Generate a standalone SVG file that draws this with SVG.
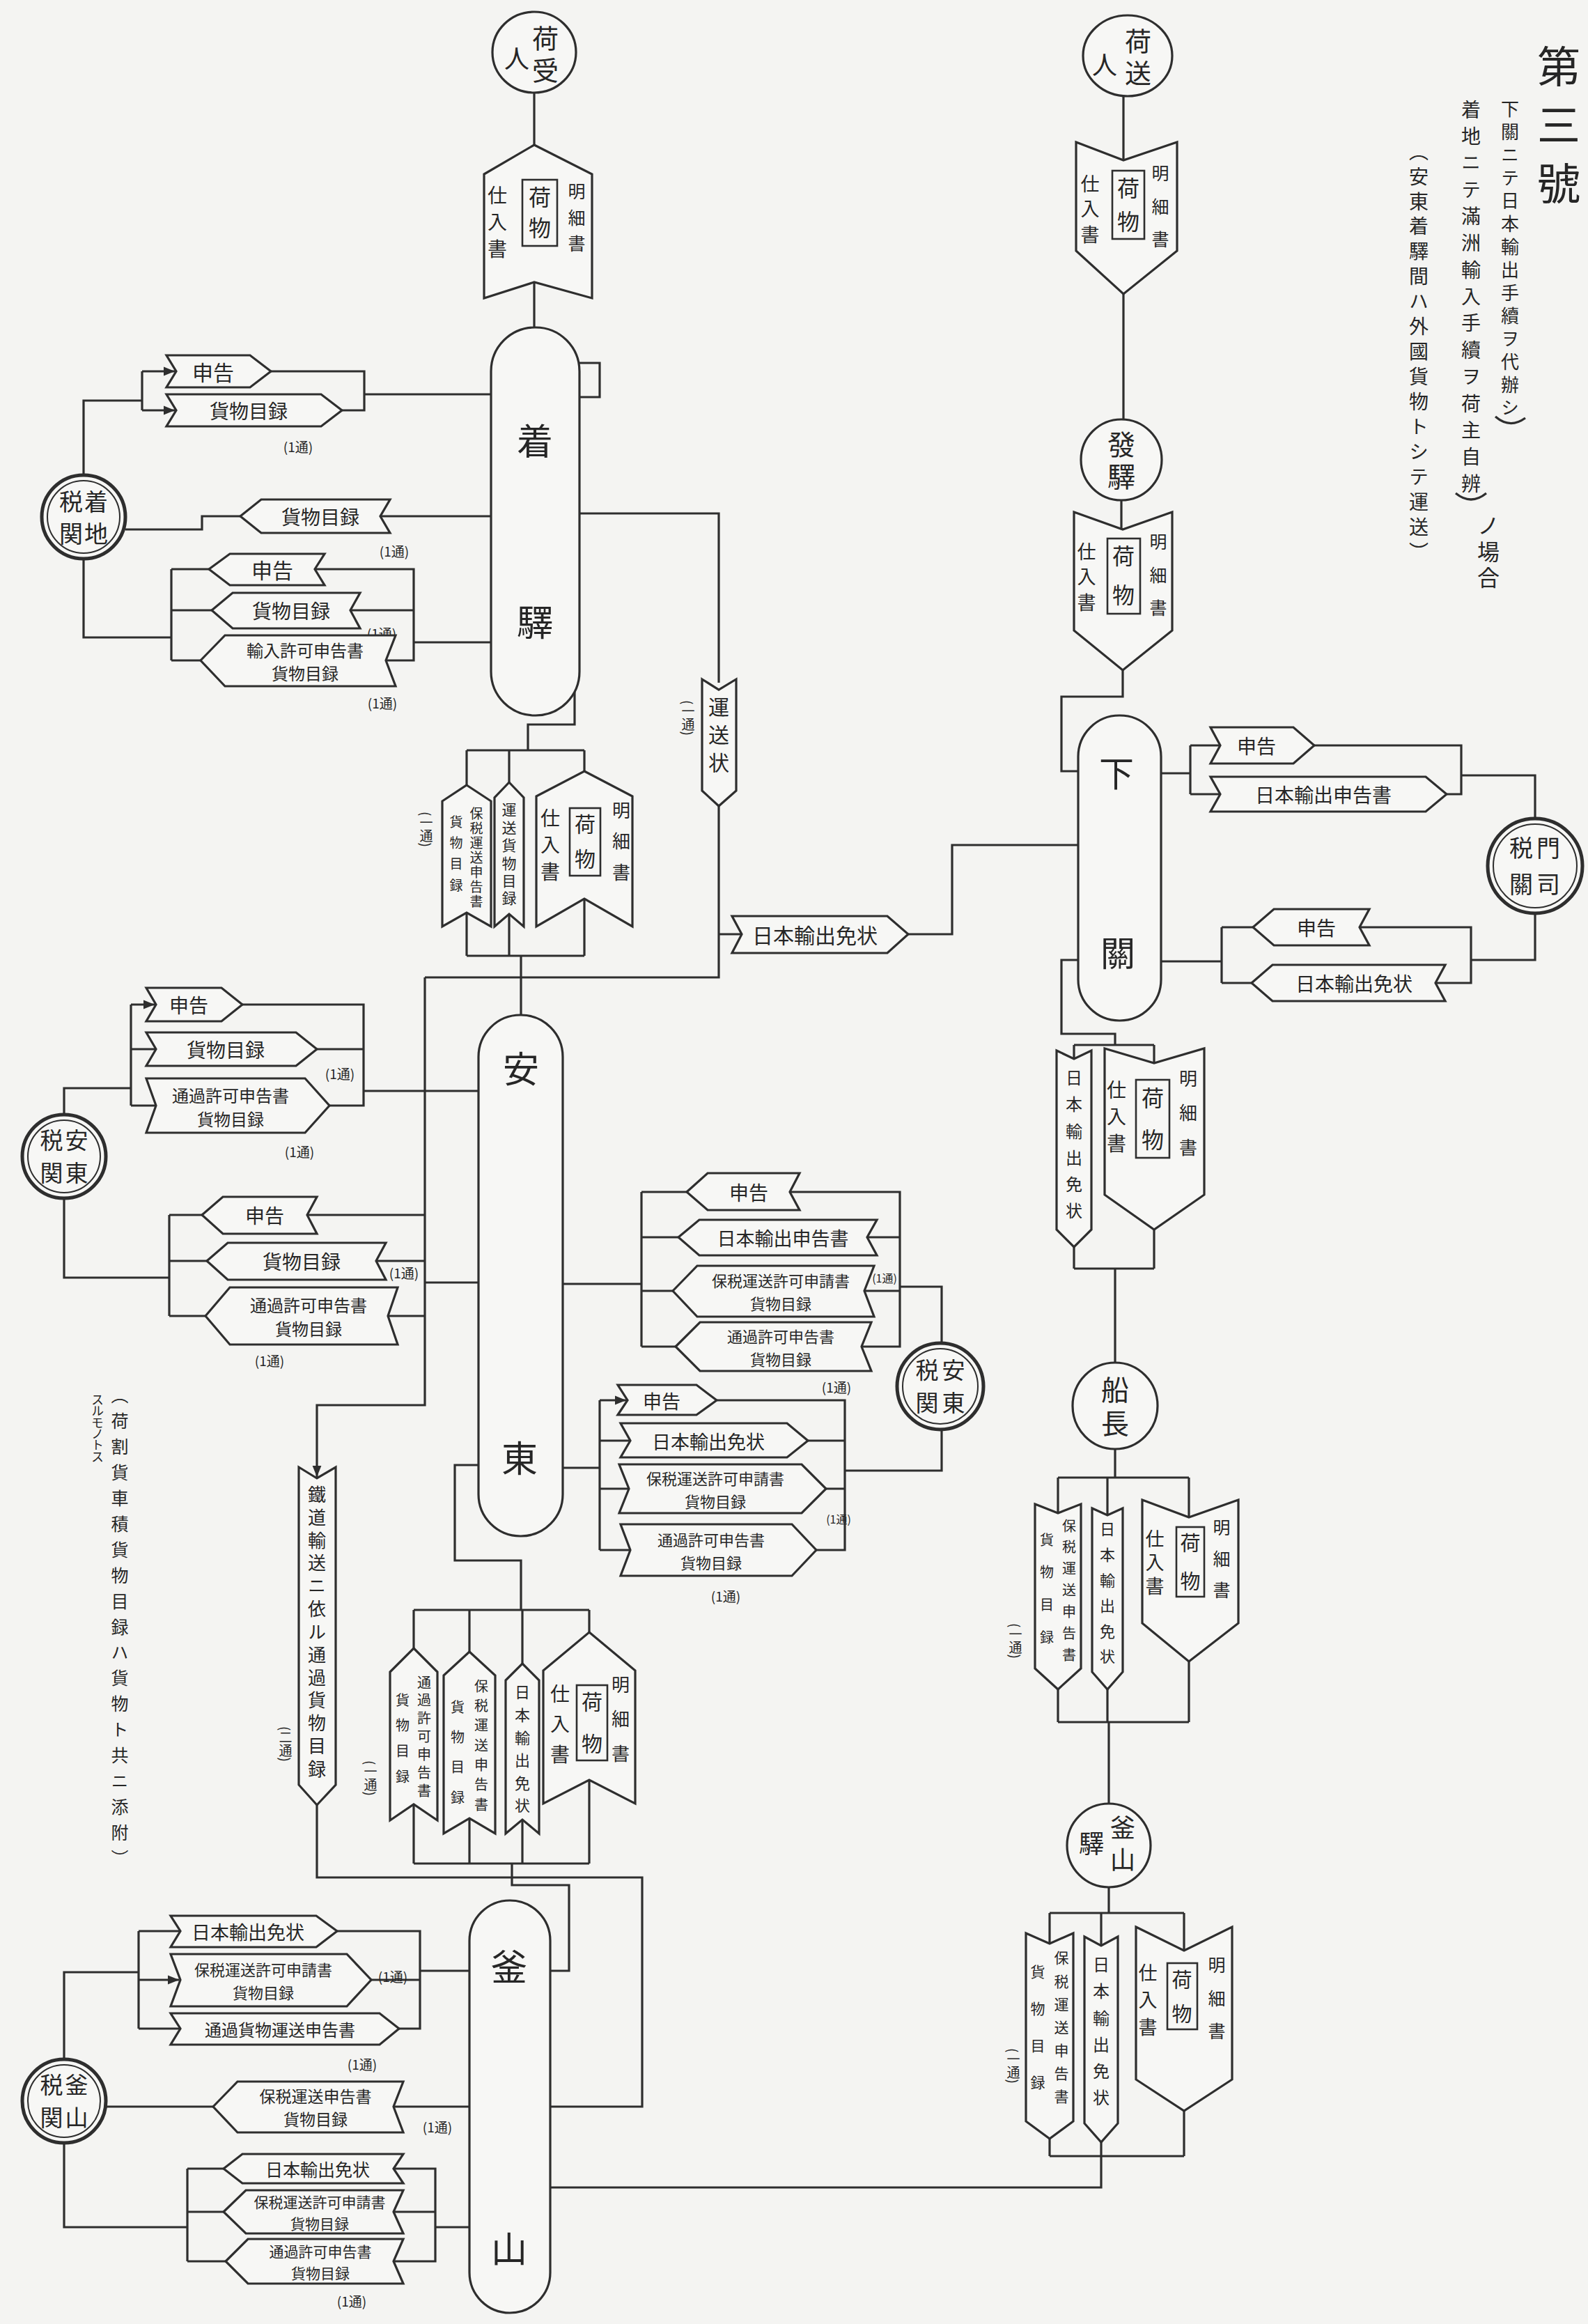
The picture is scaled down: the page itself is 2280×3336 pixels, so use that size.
<svg xmlns="http://www.w3.org/2000/svg" width="2280" height="3336" viewBox="0 0 2280 3336">
<style>
.ln{fill:none;stroke:#2e2e2e;stroke-width:3.2}
.sh{fill:#f7f7f5;stroke:#2e2e2e;stroke-width:3.2}
.bx{fill:none;stroke:#2e2e2e;stroke-width:2.6}
.cu{fill:#f7f7f5;stroke:#2e2e2e;stroke-width:5}
.ci{fill:none;stroke:#2e2e2e;stroke-width:2}
.t{font-family:"Noto Sans CJK JP","Noto Sans CJK SC",sans-serif;fill:#262626}
.v{writing-mode:vertical-rl}
.h{text-anchor:middle;dominant-baseline:central}
.n{font-size:19px}
</style>
<defs>
<marker id="ah" viewBox="0 0 10 10" refX="10" refY="5" markerWidth="5" markerHeight="5" orient="auto"><path d="M0,1 L10,5 L0,9z" fill="#2e2e2e"/></marker>
</defs>
<rect x="0" y="0" width="2280" height="3336" fill="#f4f4f2"/>

<g id="title">
<text class="t v" x="2238" y="64" font-size="62" textLength="230">第三號</text>
<text class="t v" x="2168" y="143" font-size="26" textLength="455">下關ニテ日本輸出手續ヲ代辦シ</text>
<text class="t v" x="2112" y="143" font-size="28" textLength="565">着地ニテ滿洲輸入手續ヲ荷主自辨</text>
<text class="t v" x="2137" y="738" font-size="32" textLength="107">ノ場合</text>
<text class="t v" x="2037" y="203" font-size="28" textLength="603">（安東着驛間ハ外國貨物トシテ運送）</text>
<path class="ln" d="M2147 598 Q2168 616 2190 600 M2090 708 Q2112 726 2134 708"/>
</g>

<g id="note">
<text class="t v" x="172" y="1990" font-size="25" textLength="690">（荷割貨車積貨物目録ハ貨物ト共ニ添附）</text>
<text class="t v" x="140" y="2000" font-size="18" textLength="100">スルモノトス</text>
</g>

<g id="connectors">
<path class="ln" d="M767 133 V208 M767 405 V521 H861 V570 H832"/>
<path class="ln" d="M120 682 V575 H204 M204 533 V589 M389 533 H523 V589 H491 M523 566 H705"/>
<path class="ln" d="M204 533 H251" marker-end="url(#ah)"/>
<path class="ln" d="M204 589 H251" marker-end="url(#ah)"/>
<path class="ln" d="M546 741 H705 M345 741 H290 V760 H180"/>
<path class="ln" d="M120 802 V915 H246 M246 817 V948 M246 817 H300 M246 876 H304 M246 948 H288 M452 817 H594 V948 H554 M503 876 H594 M594 922 H705"/>
<path class="ln" d="M832 737 H1032 V980 M1032 1157 V1403 H610 M1032 1341 H1065 M1304 1341 H1367 V1213 H1548"/>
<path class="ln" d="M825 992 V1040 H758 V1077 M670 1077 H839 M670 1077 V1127 M731 1077 V1123 M839 1077 V1107 M670 1310 V1372 M731 1312 V1372 M839 1290 V1372 M670 1372 H839 M748 1372 V1457"/>
<path class="ln" d="M92 1600 V1562 H188 M188 1442 V1587 M188 1506 H224 M188 1587 H224 M348 1442 H522 V1587 H473 M455 1506 H522 M522 1566 H687"/>
<path class="ln" d="M188 1442 H222" marker-end="url(#ah)"/>
<path class="ln" d="M92 1720 V1834 H243 M243 1744 V1889 M243 1744 H290 M243 1810 H297 M243 1889 H295 M441 1744 H610 M540 1810 H610 M557 1889 H610 M610 1841 H687"/>
<path class="ln" d="M610 1403 V2017 H455 V2120" marker-end="url(#ah)"/>
<path class="ln" d="M808 1843 H921 M921 1711 V1933 M921 1711 H986 M921 1776 H974 M921 1853 H966 M921 1933 H970 M1134 1711 H1292 V1933 H1237 M1245 1776 H1292 M1241 1853 H1292 M1292 1847 H1352 V1928 M1352 2052 V2111 H1213"/>
<path class="ln" d="M808 2107 H861 M861 2010 V2225 M861 2068 H905 M861 2137 H903 M861 2225 H905 M1029 2010 H1213 V2225 H1172 M1160 2068 H1213 M1186 2137 H1213"/>
<path class="ln" d="M861 2010 H899" marker-end="url(#ah)"/>
<path class="ln" d="M687 2103 H653 V2240 H748 V2311 M594 2311 H846 M594 2311 V2366 M674 2311 V2371 M750 2311 V2388 M846 2311 V2343 M594 2590 V2675 M674 2610 V2675 M750 2612 V2675 M846 2555 V2675 M594 2675 H846 M735 2675 V2706 H817 V2829 H790"/>
<path class="ln" d="M455 2591 V2695 H922 V3024 H790"/>
<path class="ln" d="M92 2956 V2831 H199 M199 2772 V2912 M199 2772 H259 M199 2912 H259 M484 2772 H603 V2912 H573 M533 2842 H603 M603 2829 H674"/>
<path class="ln" d="M199 2842 H257" marker-end="url(#ah)"/>
<path class="ln" d="M306 3024 H152 M565 3024 H674"/>
<path class="ln" d="M92 3076 V3197 H269 M269 3113 V3246 M269 3113 H321 M269 3175 H321 M269 3246 H324 M565 3113 H625 V3246 H565 M565 3175 H625 M625 3197 H674"/>
<path class="ln" d="M1613 138 V230 M1613 422 V602 M1610 718 V760 M1612 962 V1000 H1524 V1107 H1548"/>
<path class="ln" d="M1667 1110 H1709 M1709 1070 V1140 M1709 1070 H1752 M1709 1140 H1752 M1887 1070 H2098 V1140 H2077 M2098 1113 H2204 V1175"/>
<path class="ln" d="M2204 1311 V1378 H2112 M1667 1380 H1754 M1754 1331 V1411 M1754 1331 H1799 M1754 1411 H1797 M1952 1331 H2112 V1411 H2061"/>
<path class="ln" d="M1548 1378 H1524 V1484 H1601 V1500 M1542 1500 H1657 M1542 1500 V1520 M1657 1500 V1526 M1542 1790 V1821 M1657 1765 V1821 M1542 1821 H1657 M1601 1821 V1956"/>
<path class="ln" d="M1601 2080 V2121 M1519 2121 H1707 M1519 2121 V2172 M1590 2121 V2175 M1707 2121 V2178 M1519 2425 V2472 M1590 2425 V2472 M1707 2385 V2472 M1519 2472 H1707 M1592 2472 V2589"/>
<path class="ln" d="M1592 2709 V2746 M1507 2746 H1700 M1507 2746 V2790 M1581 2746 V2793 M1700 2746 V2800 M1507 3070 V3095 M1581 3075 V3095 M1700 3030 V3095 M1507 3095 H1700 M1581 3095 V3140 H790"/>
</g>

<g id="consignee">
<ellipse class="sh" cx="767" cy="75" rx="60" ry="58"/>
<text class="t v" x="783" y="36" font-size="38" textLength="84">荷受</text>
<text class="t v" x="742" y="66" font-size="36">人</text>
</g>
<g id="doc-p1">
<polygon class="sh" points="767,208 850,250 850,428 767,405 695,428 695,250"/>
<text class="t v" x="714" y="266" font-size="28" textLength="105">仕入書</text>
<rect class="bx" x="750" y="258" width="50" height="95"/>
<text class="t v" x="775" y="267" font-size="32" textLength="76">荷物</text>
<text class="t v" x="828" y="262" font-size="25" textLength="100">明細書</text>
</g>
<g id="tower-chakueki">
<rect class="sh" x="705" y="470" width="127" height="557" rx="63"/>
<text class="t h" x="768" y="630" font-size="52">着</text>
<text class="t h" x="768" y="890" font-size="52">驛</text>
</g>
<g id="customs-chakuchi">
<circle class="cu" cx="120" cy="742" r="60"/><circle class="ci" cx="120" cy="742" r="52"/>
<text class="t v" x="138" y="703" font-size="34" textLength="80">着地</text>
<text class="t v" x="102" y="703" font-size="34" textLength="80">税関</text>
</g>
<g id="docs-a">
<polygon class="sh" points="239,510 359,510 389,533 359,556 239,556 253,533"/>
<text class="t h" x="306" y="533" font-size="30">申告</text>
<polygon class="sh" points="239,566 461,566 491,589 461,612 239,612 253,589"/>
<text class="t h" x="357" y="589" font-size="28">貨物目録</text>
<text class="t h n" x="428" y="640">(1通)</text>
</g>
<g id="docs-b">
<polygon class="sh" points="345,741 375,717 560,717 546,741 560,765 375,765"/>
<text class="t h" x="460" y="741" font-size="28">貨物目録</text>
<text class="t h n" x="566" y="790">(1通)</text>
</g>
<g id="docs-c">
<polygon class="sh" points="300,817 330,795 466,795 452,817 466,840 330,840"/>
<text class="t h" x="391" y="817" font-size="30">申告</text>
<polygon class="sh" points="304,876 334,851 517,851 503,876 517,902 334,902"/>
<text class="t h" x="418" y="876" font-size="28">貨物目録</text>
<text class="t h n" x="548" y="908">(1通)</text>
<polygon class="sh" points="288,948 323,912 568,912 554,948 568,985 323,985"/>
<text class="t h" x="438" y="932" font-size="24">輸入許可申告書</text>
<text class="t h" x="438" y="965" font-size="24">貨物目録</text>
<text class="t h n" x="549" y="1008">(1通)</text>
</g>
<g id="waybill">
<polygon class="sh" points="1008,975 1032,990 1057,975 1057,1135 1032,1157 1008,1135"/>
<text class="t v" x="1032" y="1000" font-size="30" textLength="110">運送状</text>
<text class="t v n" x="988" y="1005">(一通)</text>
</g>
<g id="export-permit-1">
<polygon class="sh" points="1051,1315 1274,1315 1304,1341 1274,1368 1051,1368 1065,1341"/>
<text class="t h" x="1170" y="1341" font-size="30">日本輸出免状</text>
</g>
<g id="docs-s">
<polygon class="sh" points="670,1127 705,1150 705,1330 670,1310 635,1330 635,1150"/>
<text class="t v" x="684" y="1158" font-size="19" textLength="145">保税運送申告書</text>
<text class="t v" x="655" y="1170" font-size="19" textLength="110">貨物目録</text>
<polygon class="sh" points="731,1123 752,1145 752,1330 731,1312 710,1330 710,1145"/>
<text class="t v" x="731" y="1152" font-size="21" textLength="148">運送貨物目録</text>
<polygon class="sh" points="839,1107 908,1143 908,1330 839,1290 770,1330 770,1143"/>
<text class="t v" x="790" y="1160" font-size="28" textLength="105">仕入書</text>
<rect class="bx" x="818" y="1160" width="44" height="97"/>
<text class="t v" x="840" y="1168" font-size="30" textLength="80">荷物</text>
<text class="t v" x="892" y="1150" font-size="26" textLength="115">明細書</text>
<text class="t v n" x="612" y="1165">(一通)</text>
</g>
<g id="tower-andong">
<rect class="sh" x="687" y="1457" width="121" height="748" rx="60"/>
<text class="t h" x="748" y="1531" font-size="52">安</text>
<text class="t h" x="746" y="2090" font-size="52">東</text>
</g>
<g id="customs-andong-l">
<circle class="cu" cx="92" cy="1660" r="60"/><circle class="ci" cx="92" cy="1660" r="52"/>
<text class="t v" x="110" y="1620" font-size="33" textLength="80">安東</text>
<text class="t v" x="74" y="1620" font-size="33" textLength="80">税関</text>
</g>
<g id="docs-d">
<polygon class="sh" points="210,1418 318,1418 348,1442 318,1466 210,1466 224,1442"/>
<text class="t h" x="271" y="1442" font-size="28">申告</text>
<polygon class="sh" points="210,1482 425,1482 455,1506 425,1530 210,1530 224,1506"/>
<text class="t h" x="324" y="1506" font-size="28">貨物目録</text>
<text class="t h n" x="488" y="1540">(1通)</text>
<polygon class="sh" points="210,1548 438,1548 473,1587 438,1626 210,1626 224,1587"/>
<text class="t h" x="331" y="1571" font-size="24">通過許可申告書</text>
<text class="t h" x="331" y="1605" font-size="24">貨物目録</text>
<text class="t h n" x="430" y="1652">(1通)</text>
</g>
<g id="docs-e">
<polygon class="sh" points="290,1744 320,1718 455,1718 441,1744 455,1771 320,1771"/>
<text class="t h" x="380" y="1744" font-size="28">申告</text>
<polygon class="sh" points="297,1810 327,1784 554,1784 540,1810 554,1837 327,1837"/>
<text class="t h" x="433" y="1810" font-size="28">貨物目録</text>
<text class="t h n" x="580" y="1826">(1通)</text>
<polygon class="sh" points="295,1889 330,1848 571,1848 557,1889 571,1930 330,1930"/>
<text class="t h" x="443" y="1872" font-size="24">通過許可申告書</text>
<text class="t h" x="443" y="1906" font-size="24">貨物目録</text>
<text class="t h n" x="387" y="1952">(1通)</text>
</g>
<g id="docs-f">
<polygon class="sh" points="986,1711 1016,1684 1148,1684 1134,1711 1148,1737 1016,1737"/>
<text class="t h" x="1075" y="1711" font-size="28">申告</text>
<polygon class="sh" points="974,1776 1004,1751 1259,1751 1245,1776 1259,1802 1004,1802"/>
<text class="t h" x="1124" y="1776" font-size="27">日本輸出申告書</text>
<polygon class="sh" points="966,1853 1001,1817 1255,1817 1241,1853 1255,1890 1001,1890"/>
<text class="t h" x="1121" y="1837" font-size="22">保税運送許可申請書</text>
<text class="t h" x="1121" y="1870" font-size="22">貨物目録</text>
<text class="t h" x="1270" y="1834" font-size="16">(1通)</text>
<polygon class="sh" points="970,1933 1005,1898 1251,1898 1237,1933 1251,1968 1005,1968"/>
<text class="t h" x="1121" y="1917" font-size="22">通過許可申告書</text>
<text class="t h" x="1121" y="1950" font-size="22">貨物目録</text>
<text class="t h n" x="1201" y="1990">(1通)</text>
</g>
<g id="customs-andong-r">
<circle class="cu" cx="1350" cy="1990" r="62"/><circle class="ci" cx="1350" cy="1990" r="54"/>
<text class="t v" x="1369" y="1950" font-size="33" textLength="80">安東</text>
<text class="t v" x="1331" y="1950" font-size="33" textLength="80">税関</text>
</g>
<g id="docs-g">
<polygon class="sh" points="887,1988 1000,1988 1029,2010 1000,2031 887,2031 901,2010"/>
<text class="t h" x="950" y="2010" font-size="27">申告</text>
<polygon class="sh" points="891,2043 1130,2043 1160,2068 1130,2092 891,2092 905,2068"/>
<text class="t h" x="1017" y="2068" font-size="27">日本輸出免状</text>
<polygon class="sh" points="889,2102 1151,2102 1186,2137 1151,2172 889,2172 903,2137"/>
<text class="t h" x="1027" y="2121" font-size="22">保税運送許可申請書</text>
<text class="t h" x="1027" y="2154" font-size="22">貨物目録</text>
<text class="t h" x="1204" y="2180" font-size="16">(1通)</text>
<polygon class="sh" points="891,2188 1137,2188 1172,2225 1137,2262 891,2262 905,2225"/>
<text class="t h" x="1021" y="2209" font-size="22">通過許可申告書</text>
<text class="t h" x="1021" y="2242" font-size="22">貨物目録</text>
<text class="t h n" x="1042" y="2290">(1通)</text>
</g>
<g id="docs-t">
<polygon class="sh" points="594,2366 628,2400 628,2613 594,2590 560,2613 560,2400"/>
<text class="t v" x="609" y="2405" font-size="20" textLength="175">通過許可申告書</text>
<text class="t v" x="578" y="2430" font-size="20" textLength="130">貨物目録</text>
<polygon class="sh" points="674,2371 711,2405 711,2632 674,2610 637,2632 637,2405"/>
<text class="t v" x="691" y="2410" font-size="20" textLength="190">保税運送申告書</text>
<text class="t v" x="657" y="2440" font-size="20" textLength="150">貨物目録</text>
<polygon class="sh" points="750,2388 774,2412 774,2632 750,2612 726,2632 726,2412"/>
<text class="t v" x="750" y="2418" font-size="22" textLength="185">日本輸出免状</text>
<polygon class="sh" points="846,2343 912,2398 912,2589 846,2555 780,2589 780,2398"/>
<text class="t v" x="804" y="2417" font-size="28" textLength="115">仕入書</text>
<rect class="bx" x="828" y="2419" width="44" height="108"/>
<text class="t v" x="850" y="2428" font-size="30" textLength="90">荷物</text>
<text class="t v" x="891" y="2405" font-size="26" textLength="125">明細書</text>
<text class="t v n" x="532" y="2527">(一通)</text>
</g>
<g id="docs-rail">
<polygon class="sh" points="429,2106 455,2122 482,2106 482,2562 455,2591 429,2562"/>
<text class="t v" x="455" y="2132" font-size="26" textLength="420">鐵道輸送ニ依ル通過貨物目録</text>
<text class="t v n" x="410" y="2478">(二通)</text>
</g>
<g id="tower-busan">
<rect class="sh" x="674" y="2728" width="116" height="592" rx="58"/>
<text class="t h" x="731" y="2820" font-size="52">釜</text>
<text class="t h" x="731" y="3225" font-size="52">山</text>
</g>
<g id="customs-busan">
<circle class="cu" cx="92" cy="3016" r="60"/><circle class="ci" cx="92" cy="3016" r="52"/>
<text class="t v" x="110" y="2976" font-size="33" textLength="80">釜山</text>
<text class="t v" x="74" y="2976" font-size="33" textLength="80">税関</text>
</g>
<g id="docs-j">
<polygon class="sh" points="245,2750 454,2750 484,2772 454,2795 245,2795 259,2772"/>
<text class="t h" x="356" y="2772" font-size="27">日本輸出免状</text>
<polygon class="sh" points="245,2805 498,2805 533,2842 498,2880 245,2880 259,2842"/>
<text class="t h" x="378" y="2826" font-size="22">保税運送許可申請書</text>
<text class="t h" x="378" y="2859" font-size="22">貨物目録</text>
<text class="t h n" x="564" y="2836">(1通)</text>
<polygon class="sh" points="245,2890 545,2890 573,2912 545,2935 245,2935 259,2912"/>
<text class="t h" x="402" y="2912" font-size="24">通過貨物運送申告書</text>
<text class="t h n" x="520" y="2962">(1通)</text>
</g>
<g id="docs-k">
<polygon class="sh" points="306,3024 341,2988 579,2988 565,3024 579,3061 341,3061"/>
<text class="t h" x="453" y="3008" font-size="23">保税運送申告書</text>
<text class="t h" x="453" y="3041" font-size="23">貨物目録</text>
<text class="t h n" x="628" y="3052">(1通)</text>
</g>
<g id="docs-l">
<polygon class="sh" points="321,3113 348,3092 579,3092 565,3113 579,3134 348,3134"/>
<text class="t h" x="456" y="3113" font-size="25">日本輸出免状</text>
<polygon class="sh" points="321,3175 353,3144 579,3144 565,3175 579,3206 353,3206"/>
<text class="t h" x="459" y="3160" font-size="21">保税運送許可申請書</text>
<text class="t h" x="459" y="3191" font-size="21">貨物目録</text>
<polygon class="sh" points="324,3246 356,3214 579,3214 565,3246 579,3278 356,3278"/>
<text class="t h" x="460" y="3231" font-size="21">通過許可申告書</text>
<text class="t h" x="460" y="3262" font-size="21">貨物目録</text>
<text class="t h n" x="505" y="3302">(1通)</text>
</g>

<g id="consignor">
<ellipse class="sh" cx="1619" cy="80" rx="64" ry="58"/>
<text class="t v" x="1634" y="40" font-size="38" textLength="84">荷送</text>
<text class="t v" x="1586" y="75" font-size="36">人</text>
</g>
<g id="doc-ch1">
<polygon class="sh" points="1545,204 1613,230 1690,204 1690,360 1613,422 1545,360"/>
<text class="t v" x="1565" y="250" font-size="27" textLength="100">仕入書</text>
<rect class="bx" x="1597" y="245" width="46" height="98"/>
<text class="t v" x="1620" y="254" font-size="32" textLength="80">荷物</text>
<text class="t v" x="1666" y="236" font-size="25" textLength="120">明細書</text>
</g>
<g id="departure-station">
<ellipse class="sh" cx="1610" cy="660" rx="58" ry="58"/>
<text class="t v" x="1610" y="618" font-size="40" textLength="86">發驛</text>
</g>
<g id="doc-ch2">
<polygon class="sh" points="1542,735 1612,760 1683,735 1683,905 1612,962 1542,905"/>
<text class="t v" x="1560" y="778" font-size="27" textLength="100">仕入書</text>
<rect class="bx" x="1590" y="773" width="47" height="108"/>
<text class="t v" x="1613" y="782" font-size="32" textLength="88">荷物</text>
<text class="t v" x="1663" y="765" font-size="25" textLength="120">明細書</text>
</g>
<g id="tower-shimonoseki">
<rect class="sh" x="1548" y="1027" width="119" height="438" rx="59"/>
<text class="t h" x="1603" y="1107" font-size="50">下</text>
<text class="t h" x="1605" y="1365" font-size="50">關</text>
</g>
<g id="docs-h">
<polygon class="sh" points="1738,1044 1857,1044 1887,1070 1857,1096 1738,1096 1752,1070"/>
<text class="t h" x="1804" y="1070" font-size="28">申告</text>
<polygon class="sh" points="1738,1115 2047,1115 2077,1140 2047,1165 1738,1165 1752,1140"/>
<text class="t h" x="1900" y="1140" font-size="28">日本輸出申告書</text>
</g>
<g id="customs-moji">
<circle class="cu" cx="2204" cy="1243" r="68"/><circle class="ci" cx="2204" cy="1243" r="60"/>
<text class="t v" x="2223" y="1200" font-size="34" textLength="86">門司</text>
<text class="t v" x="2184" y="1200" font-size="34" textLength="86">税關</text>
</g>
<g id="docs-i">
<polygon class="sh" points="1799,1331 1829,1305 1966,1305 1952,1331 1966,1357 1829,1357"/>
<text class="t h" x="1890" y="1331" font-size="28">申告</text>
<polygon class="sh" points="1797,1411 1827,1385 2075,1385 2061,1411 2075,1437 1827,1437"/>
<text class="t h" x="1944" y="1411" font-size="28">日本輸出免状</text>
</g>
<g id="docs-n">
<polygon class="sh" points="1517,1508 1542,1520 1567,1508 1567,1765 1542,1790 1517,1765"/>
<text class="t v" x="1542" y="1535" font-size="24" textLength="215">日本輸出免状</text>
<polygon class="sh" points="1586,1505 1657,1526 1729,1505 1729,1715 1657,1765 1586,1715"/>
<text class="t v" x="1603" y="1550" font-size="28" textLength="105">仕入書</text>
<rect class="bx" x="1631" y="1550" width="48" height="112"/>
<text class="t v" x="1655" y="1560" font-size="32" textLength="92">荷物</text>
<text class="t v" x="1706" y="1535" font-size="26" textLength="125">明細書</text>
</g>
<g id="captain">
<ellipse class="sh" cx="1601" cy="2018" rx="61" ry="62"/>
<text class="t v" x="1601" y="1975" font-size="40" textLength="88">船長</text>
</g>
<g id="docs-m">
<polygon class="sh" points="1486,2159 1519,2172 1552,2159 1552,2395 1519,2425 1486,2395"/>
<text class="t v" x="1535" y="2180" font-size="20" textLength="205">保税運送申告書</text>
<text class="t v" x="1503" y="2200" font-size="20" textLength="160">貨物目録</text>
<polygon class="sh" points="1568,2165 1590,2175 1612,2165 1612,2400 1590,2425 1568,2400"/>
<text class="t v" x="1590" y="2184" font-size="22" textLength="205">日本輸出免状</text>
<polygon class="sh" points="1640,2153 1707,2178 1778,2153 1778,2330 1707,2385 1640,2330"/>
<text class="t v" x="1658" y="2195" font-size="27" textLength="95">仕入書</text>
<rect class="bx" x="1689" y="2192" width="40" height="100"/>
<text class="t v" x="1709" y="2200" font-size="29" textLength="84">荷物</text>
<text class="t v" x="1754" y="2180" font-size="25" textLength="115">明細書</text>
<text class="t v n" x="1458" y="2330">(一通)</text>
</g>
<g id="busan-station">
<circle class="sh" cx="1592" cy="2649" r="60"/>
<text class="t v" x="1612" y="2605" font-size="36" textLength="82">釜山</text>
<text class="t v" x="1567" y="2628" font-size="36">驛</text>
</g>
<g id="docs-r">
<polygon class="sh" points="1473,2775 1507,2790 1541,2775 1541,3045 1507,3070 1473,3045"/>
<text class="t v" x="1524" y="2800" font-size="21" textLength="220">保税運送申告書</text>
<text class="t v" x="1490" y="2820" font-size="21" textLength="180">貨物目録</text>
<polygon class="sh" points="1557,2780 1581,2793 1605,2780 1605,3048 1581,3075 1557,3048"/>
<text class="t v" x="1581" y="2808" font-size="24" textLength="215">日本輸出免状</text>
<polygon class="sh" points="1631,2766 1700,2800 1769,2766 1769,2985 1700,3030 1631,2985"/>
<text class="t v" x="1648" y="2818" font-size="27" textLength="105">仕入書</text>
<rect class="bx" x="1676" y="2818" width="43" height="95"/>
<text class="t v" x="1697" y="2827" font-size="29" textLength="78">荷物</text>
<text class="t v" x="1747" y="2808" font-size="25" textLength="120">明細書</text>
<text class="t v n" x="1455" y="2940">(一通)</text>
</g>
</svg>
